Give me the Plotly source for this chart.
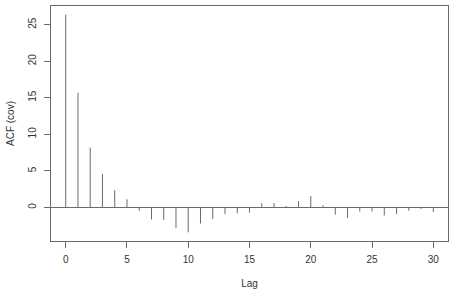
import plotly.graph_objects as go

lags = list(range(0, 31))
acf_cov = [26.37, 15.69, 8.18, 4.59, 2.36, 1.13, -0.45, -1.65, -1.7, -2.8,
           -3.4, -2.2, -1.6, -0.9, -0.8, -0.7, 0.55, 0.6, 0.2, 0.85,
           1.55, 0.27, -1.0, -1.45, -0.55, -0.55, -1.1, -0.9, -0.45, -0.2,
           -0.6]
x_ticks = [0, 5, 10, 15, 20, 25, 30]
y_ticks = [0, 5, 10, 15, 20, 25]

xs, ys = [], []
for l, v in zip(lags, acf_cov):
    xs += [l, l, None]
    ys += [0, v, None]

line_col = "#6a6a6a"
fig = go.Figure()
fig.add_trace(go.Scatter(x=xs, y=ys, mode="lines",
                         line=dict(color=line_col, width=1),
                         hoverinfo="skip", showlegend=False))

ymin, ymax = min(acf_cov), max(acf_cov)
pad = 0.04 * (ymax - ymin)
font = dict(family="Liberation Sans, Arial, sans-serif", size=10, color="#333")

fig.update_layout(
    width=451, height=299,
    margin=dict(l=51, r=3, t=6, b=58),
    paper_bgcolor="white", plot_bgcolor="white",
    font=font,
    xaxis=dict(range=[-1.2, 31.2], tickvals=x_ticks, ticks="outside", ticklen=6,
               tickcolor=line_col, showgrid=False, zeroline=False,
               showline=True, linecolor=line_col, linewidth=1, mirror=True,
               title=dict(text="Lag", font=font, standoff=15),
               ticklabelstandoff=3),
    yaxis=dict(range=[ymin - pad, ymax + pad], tickvals=y_ticks, ticks="outside",
               ticklen=6, tickcolor=line_col, tickangle=-90, showgrid=False,
               zeroline=True, zerolinecolor=line_col, zerolinewidth=1,
               showline=True, linecolor=line_col, linewidth=1, mirror=True,
               title=dict(text="ACF (cov)", font=font, standoff=10),
               ticklabelstandoff=4),
)

fig.write_html("out.html")
